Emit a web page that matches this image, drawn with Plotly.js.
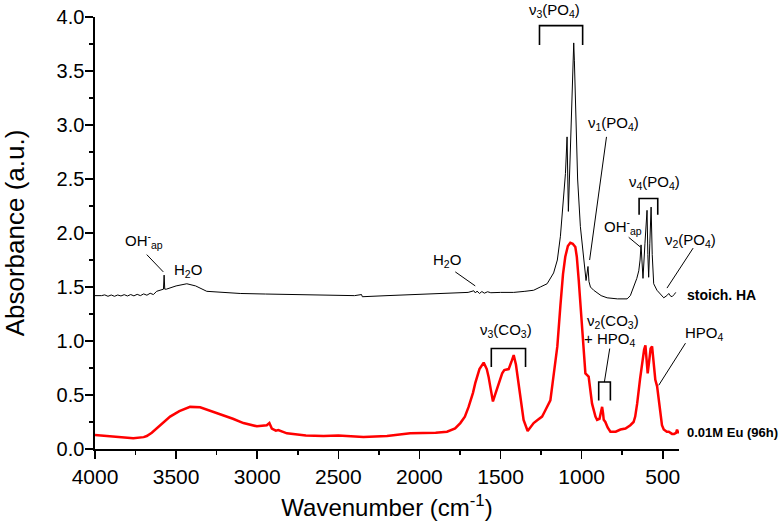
<!DOCTYPE html>
<html>
<head>
<meta charset="utf-8">
<script src="https://cdn.plot.ly/plotly-3.0.1.min.js"></script>
<style>html,body{margin:0;padding:0;background:#fff}#chart{width:784px;height:531px}</style>
</head>
<body>
<div id="chart"></div>
<script>
// ---- data ----
const haWavenumber = [4000,3960,3940,3920,3900,3880,3860,3840,3820,3800,3780,3760,3740,3720,3700,3680,3660,3640,3620,3590,3578,3574,3570,3560,3500,3434,3380,3311,3200,3105,2950,2797,2600,2400,2357,2352,2200,1995,1800,1700,1665,1655,1645,1630,1615,1600,1580,1560,1500,1419,1350,1296,1255,1213,1173,1150,1131,1115,1100,1090,1082,1070,1060,1049,1045,1035,1025,1008,995,988,980,973,961,955,946,926,880,843,780,720,700,680,660,648,640,634,628,622,610,597,592,587,580,572,565,556,536,515,494,475,463,455,443,430,420];
const haAbsorbance = [1.42,1.42,1.427,1.414,1.426,1.414,1.426,1.417,1.429,1.417,1.43,1.418,1.432,1.42,1.436,1.424,1.442,1.43,1.46,1.47,1.48,1.61,1.48,1.48,1.51,1.53,1.51,1.46,1.45,1.44,1.435,1.43,1.425,1.42,1.43,1.41,1.42,1.43,1.44,1.45,1.465,1.445,1.462,1.44,1.458,1.443,1.456,1.447,1.45,1.45,1.46,1.47,1.50,1.53,1.63,1.75,1.97,2.25,2.55,2.89,2.20,2.75,3.3,3.76,3.6,3.0,2.5,2.06,1.85,1.75,1.65,1.56,1.69,1.55,1.50,1.47,1.42,1.40,1.39,1.39,1.42,1.50,1.58,1.65,1.75,1.89,1.65,1.58,1.9,2.21,1.8,1.59,1.9,2.24,1.8,1.53,1.47,1.43,1.40,1.42,1.44,1.42,1.41,1.43,1.45];

const euWavenumber = [4000,3900,3764,3700,3681,3650,3620,3580,3537,3480,3414,3352,3280,3208,3150,3085,3002,2941,2925,2910,2885,2870,2859,2817,2700,2591,2500,2345,2200,2057,1900,1830,1780,1748,1720,1697,1670,1656,1630,1604,1585,1574,1560,1547,1530,1512,1490,1477,1450,1430,1419,1405,1389,1370,1358,1333,1315,1296,1270,1244,1230,1193,1180,1165,1150,1131,1115,1101,1085,1070,1055,1039,1030,1018,998,985,977,957,945,936,915,905,890,880,874,868,864,854,840,823,790,761,730,700,680,670,658,640,628,615,607,600,593,585,575,566,556,546,535,525,515,505,494,475,463,443,430,418,412,405,400];
const euAbsorbance = [0.13,0.115,0.10,0.11,0.12,0.15,0.19,0.24,0.30,0.35,0.39,0.386,0.35,0.31,0.28,0.24,0.21,0.22,0.24,0.19,0.17,0.175,0.17,0.145,0.125,0.12,0.125,0.11,0.12,0.145,0.15,0.16,0.19,0.24,0.30,0.39,0.52,0.61,0.74,0.80,0.74,0.67,0.55,0.44,0.52,0.61,0.70,0.73,0.74,0.82,0.87,0.78,0.61,0.42,0.27,0.167,0.20,0.24,0.27,0.30,0.34,0.45,0.60,0.79,0.95,1.33,1.62,1.78,1.88,1.91,1.90,1.87,1.78,1.56,1.10,0.80,0.70,0.67,0.55,0.42,0.30,0.27,0.28,0.36,0.39,0.33,0.27,0.25,0.20,0.16,0.16,0.18,0.19,0.22,0.25,0.30,0.42,0.65,0.79,0.92,0.96,0.85,0.70,0.80,0.93,0.95,0.80,0.64,0.58,0.45,0.30,0.22,0.18,0.16,0.16,0.14,0.14,0.15,0.18,0.15,0.16];

const xTickVals = [4000,3500,3000,2500,2000,1500,1000,500];
const yTickVals = [0,0.5,1,1.5,2,2.5,3,3.5,4];

// ---- decorations ----
const X0 = 4000, X1 = 400, Y0 = 0, Y1 = 4;
const xp = w => (X0 - w) / (X0 - X1);
const yp = a => (a - Y0) / (Y1 - Y0);
const FONT = 'Liberation Sans, Arial, Helvetica, sans-serif';

const brackets = [
  {x0:1260, x1:994, top:3.92, bottom:3.74},
  {x0:646, x1:531, top:2.32, bottom:2.17},
  {x0:1557, x1:1346, top:0.93, bottom:0.76},
  {x0:895, x1:823, top:0.62, bottom:0.45}
];
const pointers = [
  [847,2.89,951,1.75],
  [710,1.96,638,1.87],
  [313,1.86,474,1.49],
  [360,0.98,525,0.59],
  [827,0.93,860,0.62],
  [3681,1.80,3579,1.64],
  [1779,1.64,1656,1.51]
];
const labels = [
  {t:'ν<sub>3</sub>(PO<sub>4</sub>)', x:1168, y:4.06},
  {t:'ν<sub>1</sub>(PO<sub>4</sub>)', x:804, y:3.01},
  {t:'ν<sub>4</sub>(PO<sub>4</sub>)', x:554, y:2.47},
  {t:'OH<sup>-</sup><sub>ap</sub>', x:874, y:2.06, a:'left'},
  {t:'ν<sub>2</sub>(PO<sub>4</sub>)', x:330, y:1.93},
  {t:'<b>stoich. HA</b>', x:360, y:1.43, a:'left', s:14},
  {t:'<b>0.01M Eu (96h)</b>', x:360, y:0.15, a:'left', s:13},
  {t:'HPO<sub>4</sub>', x:243, y:1.07},
  {t:'ν<sub>2</sub>(CO<sub>3</sub>)', x:806, y:1.18},
  {t:'+ HPO<sub>4</sub>', x:829, y:1.01},
  {t:'ν<sub>3</sub>(CO<sub>3</sub>)', x:1465, y:1.10},
  {t:'OH<sup>-</sup><sub>ap</sub>', x:3827, y:1.93, a:'left'},
  {t:'H<sub>2</sub>O', x:3429, y:1.65},
  {t:'H<sub>2</sub>O', x:1830, y:1.75}
];

const shapes = [];
brackets.forEach(b => {
  shapes.push({type:'path', xref:'paper', yref:'paper',
    path:`M ${xp(b.x0)} ${yp(b.bottom)} L ${xp(b.x0)} ${yp(b.top)} L ${xp(b.x1)} ${yp(b.top)} L ${xp(b.x1)} ${yp(b.bottom)}`,
    line:{color:'#000', width:1.6}});
});
pointers.forEach(p => {
  shapes.push({type:'line', xref:'paper', yref:'paper',
    x0:xp(p[0]), y0:yp(p[1]), x1:xp(p[2]), y1:yp(p[3]), line:{color:'#000', width:1}});
});
const annotations = labels.map(l => ({
  text:l.t, x:xp(l.x), y:yp(l.y), xref:'paper', yref:'paper', showarrow:false,
  xanchor:l.a || 'center', yanchor:'middle',
  font:{family:FONT, size:l.s || 15, color:'#000'}
}));

const traces = [
  {x:haWavenumber, y:haAbsorbance, type:'scatter', mode:'lines', name:'stoich. HA',
   line:{color:'#000', width:1}},
  {x:euWavenumber, y:euAbsorbance, type:'scatter', mode:'lines', name:'0.01M Eu (96h)',
   line:{color:'#ff0000', width:2.5}}
];

const layout = {
  width:784, height:531,
  margin:{l:95, r:105, t:17, b:82},
  paper_bgcolor:'#fff', plot_bgcolor:'#fff',
  showlegend:false,
  font:{family:FONT, color:'#000'},
  xaxis:{
    range:[X0, X1], tickvals:xTickVals, ticktext:xTickVals.map(String),
    ticks:'outside', ticklen:8, tickwidth:1.5, tickcolor:'#000',
    minor:{dtick:250, tick0:0, ticks:'outside', ticklen:4, tickwidth:1.5, tickcolor:'#000'},
    showline:true, linewidth:1.6, linecolor:'#000', showgrid:false, zeroline:false,
    ticklabelstandoff:0,
    tickfont:{family:FONT, size:21, color:'#000'},
    title:{text:'Wavenumber (cm<sup>-1</sup>)', font:{family:FONT, size:24, color:'#000'}, standoff:12}
  },
  yaxis:{
    range:[Y0, Y1], tickvals:yTickVals, ticktext:yTickVals.map(v => v.toFixed(1)),
    ticks:'outside', ticklen:8, tickwidth:1.5, tickcolor:'#000',
    minor:{dtick:0.25, tick0:0, ticks:'outside', ticklen:4, tickwidth:1.5, tickcolor:'#000'},
    showline:true, linewidth:1.6, linecolor:'#000', showgrid:false, zeroline:false,
    ticklabelstandoff:-3,
    tickfont:{family:FONT, size:20, color:'#000'},
    title:{text:'Absorbance (a.u.)', font:{family:FONT, size:26, color:'#000'}, standoff:24}
  },
  shapes:shapes,
  annotations:annotations
};

Plotly.newPlot('chart', traces, layout, {displayModeBar:false, staticPlot:true});
</script>
</body>
</html>
